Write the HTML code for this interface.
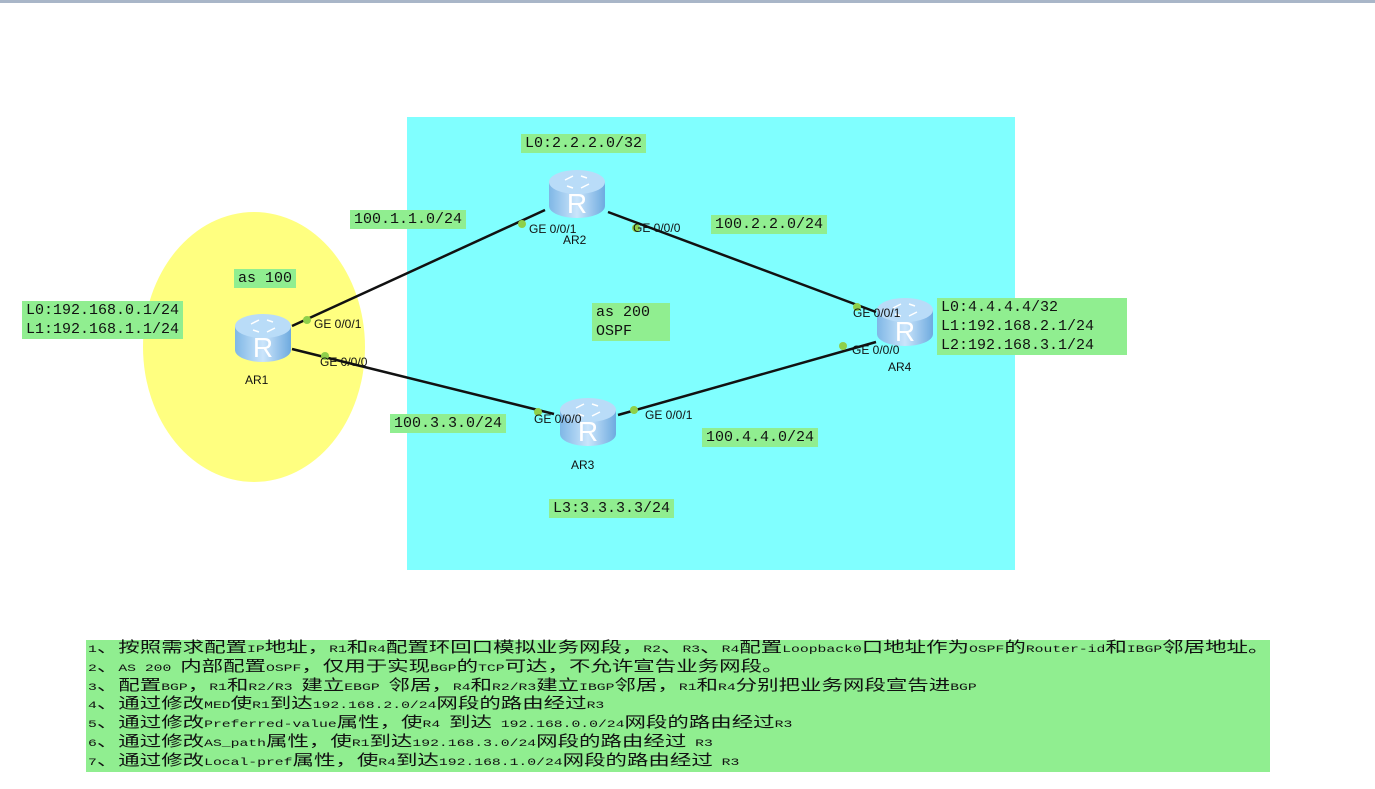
<!DOCTYPE html>
<html><head><meta charset="utf-8"><style>
body{margin:0;width:1375px;height:789px;position:relative;background:#fff;overflow:hidden;font-family:"Liberation Mono","Noto Sans CJK SC",monospace}
.g{position:absolute;background:#90ee90;font-family:"Liberation Mono","Noto Sans CJK SC",monospace;font-size:15px;color:#111;line-height:19px;padding:0 4px;white-space:pre}
.t{position:absolute;font-family:"Liberation Sans",sans-serif;font-size:12px;color:#111;white-space:nowrap}
.b{position:absolute;left:88px;top:638px;transform:scaleX(1.43);transform-origin:0 0;font-family:"Noto Sans CJK SC",sans-serif;font-size:15px;color:#111}
.b div{height:18.8px;line-height:18.8px;white-space:pre}
.b i{font-style:normal;font-family:"Liberation Mono",monospace;font-size:10.3px;line-height:18.8px}
</style></head><body>
<div style="position:absolute;left:0;top:0;width:1375px;height:3px;background:#a9b6c8"></div>
<svg width="1375" height="789" style="position:absolute;left:0;top:0">
<defs>
<linearGradient id="rb" x1="0" x2="1"><stop offset="0" stop-color="#7fb7e6"/><stop offset=".5" stop-color="#cbe5fb"/><stop offset="1" stop-color="#6eaadf"/></linearGradient>
<g id="r">
<path d="M-28,-12 L-28,12 A28,12 0 0 0 28,12 L28,-12 Z" fill="url(#rb)"/>
<ellipse cx="0" cy="-12" rx="28" ry="12" fill="#b9dcf8"/>
<path d="M-12,-14 l8,-4 M12,-10 l-8,4 M-10,-8 l6,2 M10,-16 l-6,-2" stroke="#fff" stroke-width="1.5"/>
<text x="0" y="19" font-family="Liberation Sans" font-size="28" fill="#fff" text-anchor="middle">R</text>
</g>
</defs>
<ellipse cx="254" cy="347" rx="111" ry="135" fill="#ffff80"/>
<rect x="407" y="117" width="608" height="453" fill="#80ffff"/>
<g stroke="#111" stroke-width="2.5">
<line x1="292" y1="326" x2="545" y2="210"/>
<line x1="608" y1="212" x2="876" y2="312"/>
<line x1="292" y1="349" x2="554" y2="414"/>
<line x1="618" y1="415" x2="876" y2="342"/>
</g>
<use href="#r" x="263" y="338"/>
<use href="#r" x="577" y="194"/>
<use href="#r" x="588" y="422"/>
<use href="#r" x="905" y="322"/>
<g fill="#8ed04a">
<circle cx="307" cy="320" r="4"/><circle cx="325" cy="356" r="4"/>
<circle cx="522" cy="224" r="4"/><circle cx="636" cy="228" r="4"/>
<circle cx="538" cy="412" r="4"/><circle cx="634" cy="410" r="4"/>
<circle cx="857" cy="307" r="4"/><circle cx="843" cy="346" r="4"/>
</g>
</svg>
<div class="t" style="left:314px;top:317px">GE 0/0/1</div>
<div class="t" style="left:320px;top:355px">GE 0/0/0</div>
<div class="t" style="left:245px;top:373px">AR1</div>
<div class="t" style="left:529px;top:222px">GE 0/0/1</div>
<div class="t" style="left:563px;top:233px">AR2</div>
<div class="t" style="left:633px;top:221px">GE 0/0/0</div>
<div class="t" style="left:534px;top:412px">GE 0/0/0</div>
<div class="t" style="left:645px;top:408px">GE 0/0/1</div>
<div class="t" style="left:571px;top:458px">AR3</div>
<div class="t" style="left:853px;top:306px">GE 0/0/1</div>
<div class="t" style="left:852px;top:343px">GE 0/0/0</div>
<div class="t" style="left:888px;top:360px">AR4</div>
<div class="g" style="left:521px;top:134px">L0:2.2.2.0/32</div>
<div class="g" style="left:350px;top:210px">100.1.1.0/24</div>
<div class="g" style="left:711px;top:215px">100.2.2.0/24</div>
<div class="g" style="left:234px;top:269px">as 100</div>
<div class="g" style="left:22px;top:301px">L0:192.168.0.1/24
L1:192.168.1.1/24</div>
<div class="g" style="left:592px;top:303px;width:70px">as 200
OSPF</div>
<div class="g" style="left:937px;top:298px;width:182px">L0:4.4.4.4/32
L1:192.168.2.1/24
L2:192.168.3.1/24</div>
<div class="g" style="left:390px;top:414px">100.3.3.0/24</div>
<div class="g" style="left:702px;top:428px">100.4.4.0/24</div>
<div class="g" style="left:549px;top:499px">L3:3.3.3.3/24</div>
<div style="position:absolute;left:86px;top:640px;width:1184px;height:132px;background:#90ee90"></div>
<div class="b"><div><i>1</i>、按照需求配置<i>IP</i>地址，<i>R1</i>和<i>R4</i>配置环回口模拟业务网段，<i>R2</i>、<i>R3</i>、<i>R4</i>配置<i>Loopback0</i>口地址作为<i>OSPF</i>的<i>Router-id</i>和<i>IBGP</i>邻居地址。</div><div><i>2</i>、<i>AS 200 </i>内部配置<i>OSPF</i>，仅用于实现<i>BGP</i>的<i>TCP</i>可达，不允许宣告业务网段。</div><div><i>3</i>、配置<i>BGP</i>，<i>R1</i>和<i>R2/R3 </i>建立<i>EBGP </i>邻居，<i>R4</i>和<i>R2/R3</i>建立<i>IBGP</i>邻居，<i>R1</i>和<i>R4</i>分别把业务网段宣告进<i>BGP</i></div><div><i>4</i>、通过修改<i>MED</i>使<i>R1</i>到达<i>192.168.2.0/24</i>网段的路由经过<i>R3</i></div><div><i>5</i>、通过修改<i>Preferred-value</i>属性，使<i>R4 </i>到达<i> 192.168.0.0/24</i>网段的路由经过<i>R3</i></div><div><i>6</i>、通过修改<i>AS_path</i>属性，使<i>R1</i>到达<i>192.168.3.0/24</i>网段的路由经过<i> R3</i></div><div><i>7</i>、通过修改<i>Local-pref</i>属性，使<i>R4</i>到达<i>192.168.1.0/24</i>网段的路由经过<i> R3</i></div></div>
</body></html>
